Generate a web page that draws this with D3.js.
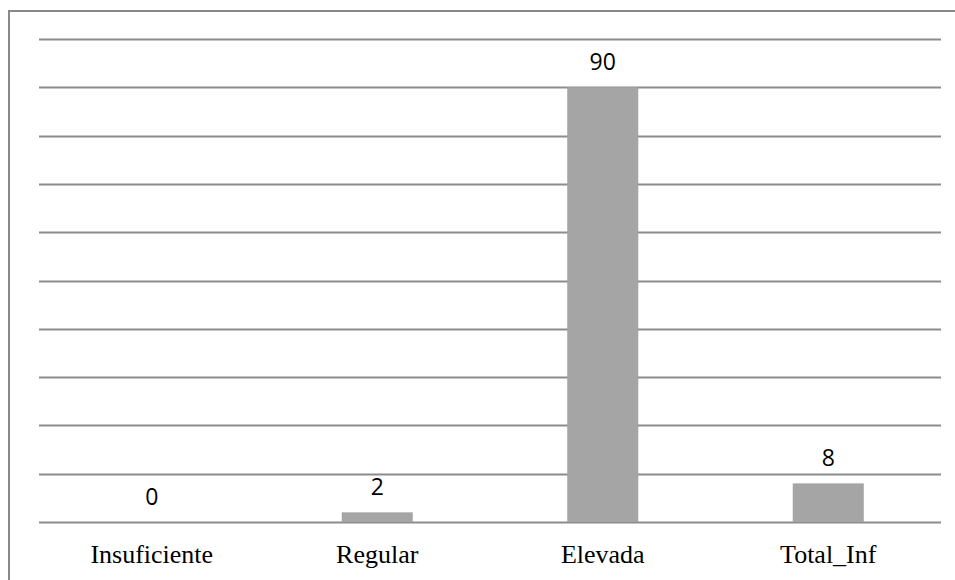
<!DOCTYPE html>
<html>
<head>
<meta charset="utf-8">
<script src="https://cdn.jsdelivr.net/npm/d3@7"></script>
<style>
  html, body { margin: 0; padding: 0; background: #fff; }
  svg { display: block; }
</style>
</head>
<body>
<div id="chart"></div>
<script>
// Distribution of responses by category
const categories = ["Insuficiente", "Regular", "Elevada", "Total_Inf"];
const values = [0, 2, 90, 8];
const yTicks = [0, 10, 20, 30, 40, 50, 60, 70, 80, 90, 100];

const W = 955, H = 580;
const plot = { left: 39, right: 941, top: 39, bottom: 522 };

const svg = d3.select("#chart").append("svg")
  .attr("width", W).attr("height", H);

// outer frame (runs past the right and bottom edges)
svg.append("rect")
  .attr("x", 9).attr("y", 11)
  .attr("width", W + 20).attr("height", H + 20)
  .attr("fill", "none")
  .attr("stroke", "#898989")
  .attr("stroke-width", 2);

const x = d3.scaleBand()
  .domain(categories)
  .range([plot.left, plot.right])
  .paddingInner(0.685)
  .paddingOuter(0.3425);

const y = d3.scaleLinear()
  .domain([0, 100])
  .range([plot.bottom, plot.top]);

// horizontal gridlines
svg.append("g")
  .selectAll("line")
  .data(yTicks)
  .join("line")
  .attr("x1", plot.left).attr("x2", plot.right)
  .attr("y1", d => Math.round(y(d)) + 0.5)
  .attr("y2", d => Math.round(y(d)) + 0.5)
  .attr("stroke", "#8c8c8c")
  .attr("stroke-width", 1.8);

// bars
svg.append("g")
  .selectAll("rect")
  .data(values)
  .join("rect")
  .attr("x", (d, i) => x(categories[i]))
  .attr("width", x.bandwidth())
  .attr("y", d => y(d))
  .attr("height", d => y(0) - y(d))
  .attr("fill", "#a5a5a5");

// value labels
svg.append("g")
  .selectAll("text")
  .data(values)
  .join("text")
  .attr("x", (d, i) => x(categories[i]) + x.bandwidth() / 2)
  .attr("y", d => y(d) - 17)
  .attr("text-anchor", "middle")
  .attr("font-family", "'Open Sans', 'DejaVu Sans', sans-serif")
  .attr("font-size", 23)
  .attr("fill", "#000")
  .text(d => d);

// category axis labels
const xAxis = d3.axisBottom(x).tickSize(0).tickPadding(0);
const gx = svg.append("g")
  .attr("transform", `translate(0,${plot.bottom})`)
  .call(xAxis);
gx.select(".domain").remove();
gx.selectAll("text")
  .attr("dy", null)
  .attr("y", 41)
  .attr("font-family", "'Liberation Serif', 'Times New Roman', serif")
  .attr("font-size", 26)
  .attr("fill", "#000");
</script>
</body>
</html>
